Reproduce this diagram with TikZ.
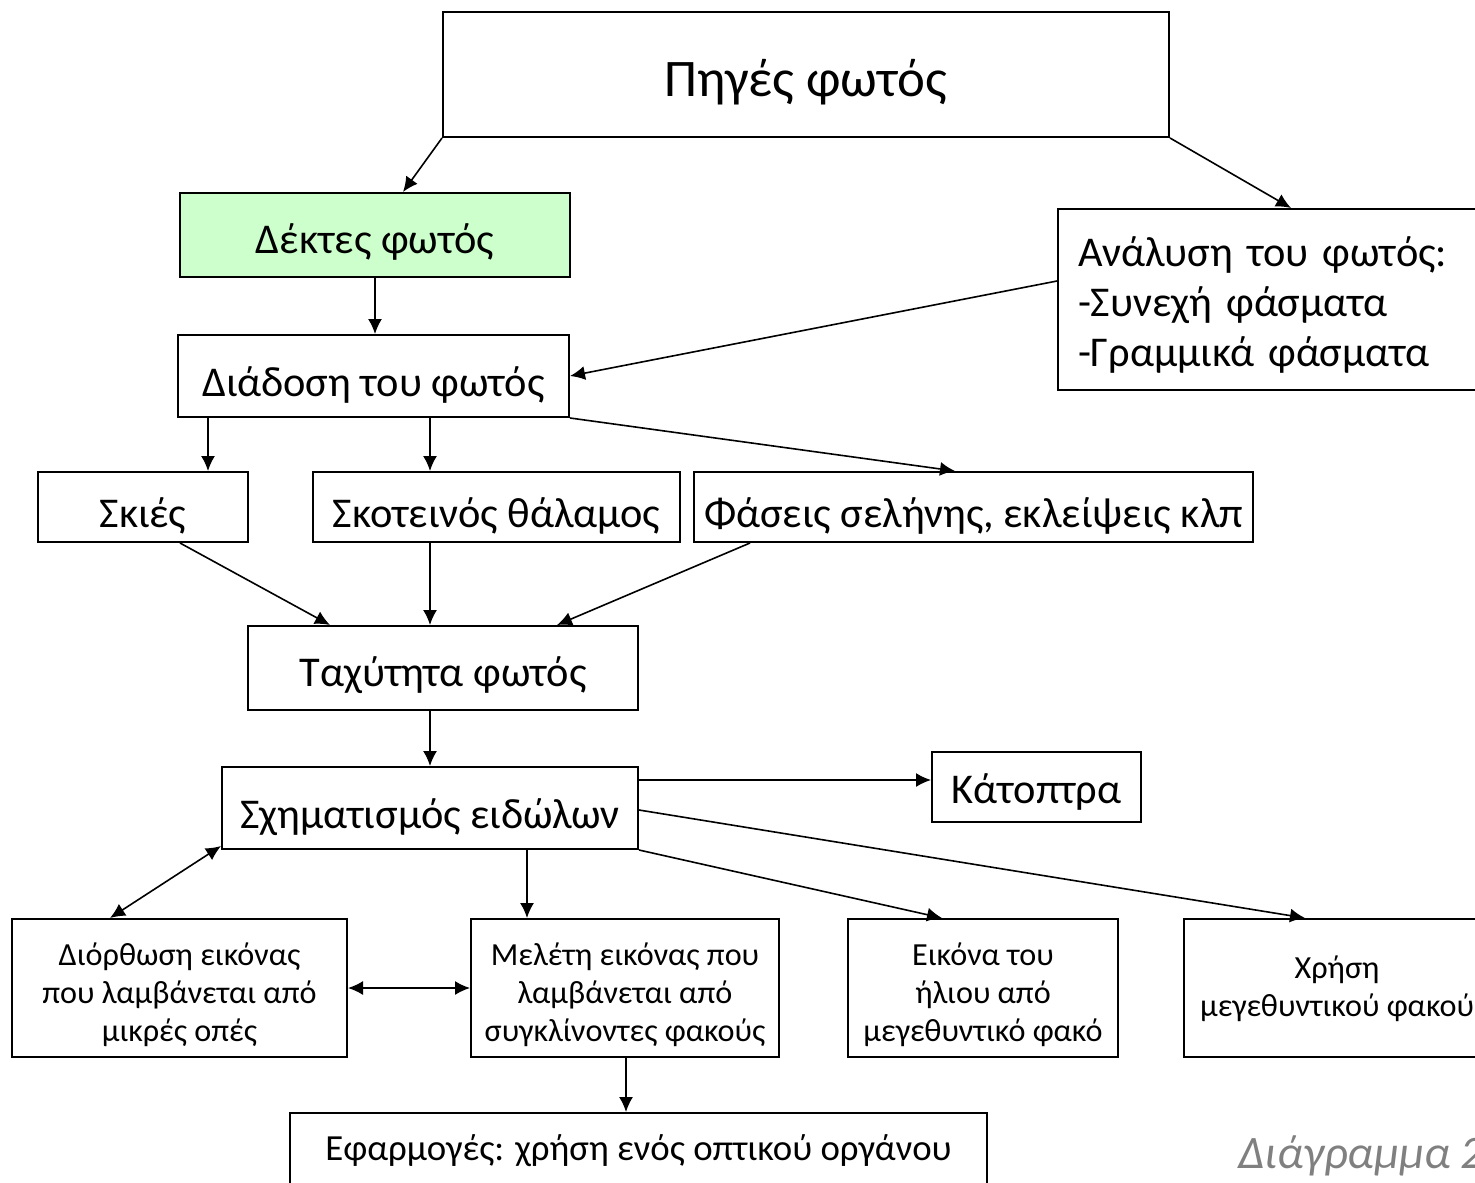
\documentclass[tikz,border=0pt]{standalone}
\usepackage{fontspec}
\setmainfont{Carlito}
\usetikzlibrary{arrows.meta, calc}
\definecolor{lightgreen}{RGB}{204,255,204}
\newcommand{\bigtxt}{\fontsize{26.4}{31}\selectfont}
\newcommand{\midtxt}{\fontsize{21.2}{25}\selectfont}
\newcommand{\smalltxt}{\fontsize{16.1}{19}\selectfont}

\begin{document}
\begin{tikzpicture}[x=0.5pt, y=-0.5pt,
    box/.style={draw, line width=1pt, inner sep=0pt, align=center},
    oneline/.style={box, text height=20pt, text depth=0pt},
    threeline/.style={box, text height=53pt, text depth=0pt, minimum height=69pt, font=\smalltxt},
    arr/.style={line width=0.8pt, -{Latex[length=7.5pt,width=7pt]}},
    darr/.style={line width=0.8pt, {Latex[length=7.5pt,width=7pt]}-{Latex[length=7.5pt,width=7pt]}}]
\useasboundingbox (0,0) rectangle (1475,1182);
% top level
\node[oneline, text height=22pt, minimum width=363pt, minimum height=62.5pt, font=\bigtxt] (pig) at (806,74.5) {Πηγές φωτός};
\node[oneline, text height=18pt, fill=lightgreen, minimum width=195pt, minimum height=42pt, font=\midtxt] (dek) at (375,235) {Δέκτες φωτός};
\node[box, anchor=north west, minimum height=90.5pt, text width=196.5pt, inner xsep=10pt, align=left, text height=15pt, text depth=48.5pt, font=\midtxt] (anal) at (1057,208) {Ανάλυση του φωτός:\\-Συνεχή φάσματα\\-Γραμμικά φάσματα};
\node[oneline, minimum width=195.5pt, minimum height=41pt, font=\midtxt] (diad) at (373.5,376) {Διάδοση του φωτός};
% second row
\node[oneline, minimum width=105pt, minimum height=35pt, font=\midtxt] (skies) at (143,507) {Σκιές};
\node[oneline, minimum width=183.5pt, minimum height=35pt, font=\midtxt] (skot) at (496.5,507) {Σκοτεινός θάλαμος};
\node[oneline, minimum width=279.5pt, minimum height=35pt, font=\midtxt] (fas) at (973.5,507) {Φάσεις σελήνης, εκλείψεις κλπ};
\node[oneline, text height=18pt, minimum width=195pt, minimum height=42pt, font=\midtxt] (tax) at (443,668) {Ταχύτητα φωτός};
\node[oneline, minimum width=208pt, minimum height=41pt, font=\midtxt] (sxim) at (430,808) {Σχηματισμός ειδώλων};
\node[oneline, text height=16pt, minimum width=104.5pt, minimum height=35pt, font=\midtxt] (kat) at (1036.5,787) {Κάτοπτρα};
% lower boxes
\node[threeline, minimum width=167.5pt] (dior) at (179.5,988) {Διόρθωση εικόνας\\που λαμβάνεται από\\μικρές οπές};
\node[threeline, minimum width=154pt] (mel) at (625,988) {Μελέτη εικόνας που\\λαμβάνεται από\\συγκλίνοντες φακούς};
\node[threeline, minimum width=135pt] (eik) at (983,988) {Εικόνα του\\ήλιου από\\μεγεθυντικό φακό};
\node[threeline, text height=28pt, minimum width=153pt] (xrisi) at (1337,988) {Χρήση\\μεγεθυντικού φακού};
\node[box, text height=10pt, text depth=0pt, minimum width=348.5pt, minimum height=37.5pt, font=\fontsize{18.4}{22}\selectfont] (efarm) at (638.5,1150.5) {Εφαρμογές: χρήση ενός οπτικού οργάνου};
\node[anchor=base west, text=gray, inner sep=0pt, font=\fontsize{23.3}{28}\selectfont\itshape] (diagr) at (1238,1168) {Διάγραμμα 2};
% connectors
\draw[arr] (pig.south west) -- ([xshift=14pt]dek.north);
\draw[arr] (pig.south east) -- ([xshift=8.25pt]anal.north);
\draw[arr] (dek.south) -- (dek.south |- diad.north);
\draw[arr] ([yshift=9.25pt]anal.west) -- (diad.east);
\draw[arr] (diad.south -| 208,0) -- (skies.north -| 208,0);
\draw[arr] (diad.south -| 430,0) -- (skot.north -| 430,0);
\draw[arr] (diad.south east) -- (fas.north -| 955,0);
\draw[arr] (skies.south -| 180,0) -- (tax.north -| 330,0);
\draw[arr] (skot.south -| 430,0) -- (tax.north -| 430,0);
\draw[arr] (fas.south -| 750,0) -- (tax.north -| 557,0);
\draw[arr] (tax.south -| 430,0) -- (sxim.north -| 430,0);
\draw[arr] (sxim.east |- 0,780) -- (kat.west |- 0,780);
\draw[darr] ([yshift=2pt]sxim.south west) -- (dior.north -| 110,0);
\draw[arr] (sxim.south -| 527,0) -- (mel.north -| 527,0);
\draw[arr] (sxim.south east) -- (eik.north -| 942,0);
\draw[arr] (sxim.east |- 0,810) -- (xrisi.north -| 1305,0);
\draw[darr] (dior.east) -- (mel.west);
\draw[arr] (mel.south -| 626,0) -- (efarm.north -| 626,0);
\end{tikzpicture}
\end{document}
